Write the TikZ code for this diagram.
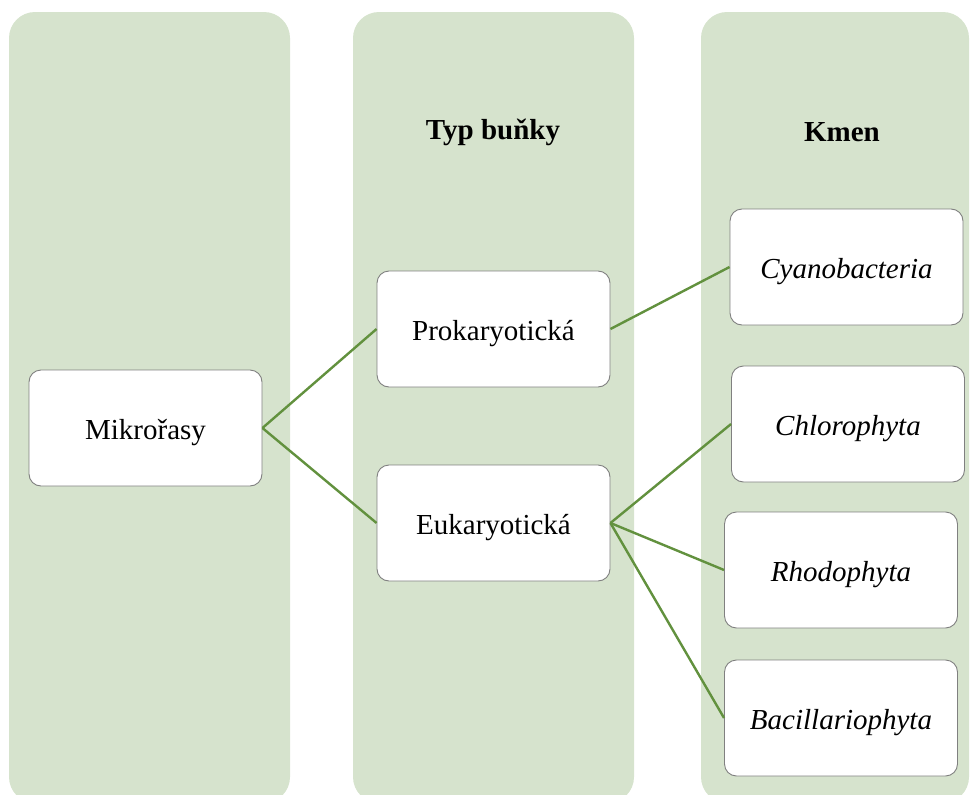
\documentclass[tikz,border=0pt]{standalone}
\usepackage{fontspec}
\setmainfont{Liberation Serif}
\usetikzlibrary{calc}

\definecolor{panelgreen}{RGB}{214,227,205}
\definecolor{linkgreen}{RGB}{98,145,62}
\definecolor{boxgray}{RGB}{128,128,128}

\begin{document}
\begin{tikzpicture} [x=1pt,y=-1pt,
  panel/.style={fill=panelgreen, draw=none, rounded corners=26pt},
  item/.style={draw=boxgray, fill=white, line width=0.9pt, rounded corners=12pt,
    minimum width=233pt, minimum height=116pt, inner sep=0pt,
    text height=24pt, text depth=1pt,
    font=\fontsize{29}{35}\selectfont},
  head/.style={font=\fontsize{29}{35}\selectfont\bfseries},
  link/.style={linkgreen, line width=2.4pt}]
\useasboundingbox (0,0) rectangle (970,795);
\clip (0,0) rectangle (970,795);
% background columns
\fill[panel] (9,12) rectangle (290,803);
\fill[panel] (353,12) rectangle (634,803);
\fill[panel] (701,12) rectangle (969,803);
\node[head] (typ) at (493,132) {Typ buňky};
\node[head] (kmen) at (842,132) {Kmen};
% boxes
\node[item] (mikro) at (145.5,428) {Mikrořasy};
\node[item] (prok) at (493.5,329) {Prokaryotická};
\node[item] (euk) at (493.5,523) {Eukaryotická};
\node[item] (cyano) at (846.5,267) {\itshape Cyanobacteria};
\node[item] (chloro) at (848,424) {\itshape Chlorophyta};
\node[item] (rhodo) at (841,570) {\itshape Rhodophyta};
\node[item] (bacil) at (841,718) {\itshape Bacillariophyta};
% links
\draw[link] (mikro.east) -- (prok.west);
\draw[link] (mikro.east) -- (euk.west);
\draw[link] (prok.east) -- (cyano.west);
\foreach \k in {chloro, rhodo, bacil} {
 \draw[link] (euk.east) -- (\k.west);
}
\end{tikzpicture}
\end{document}
